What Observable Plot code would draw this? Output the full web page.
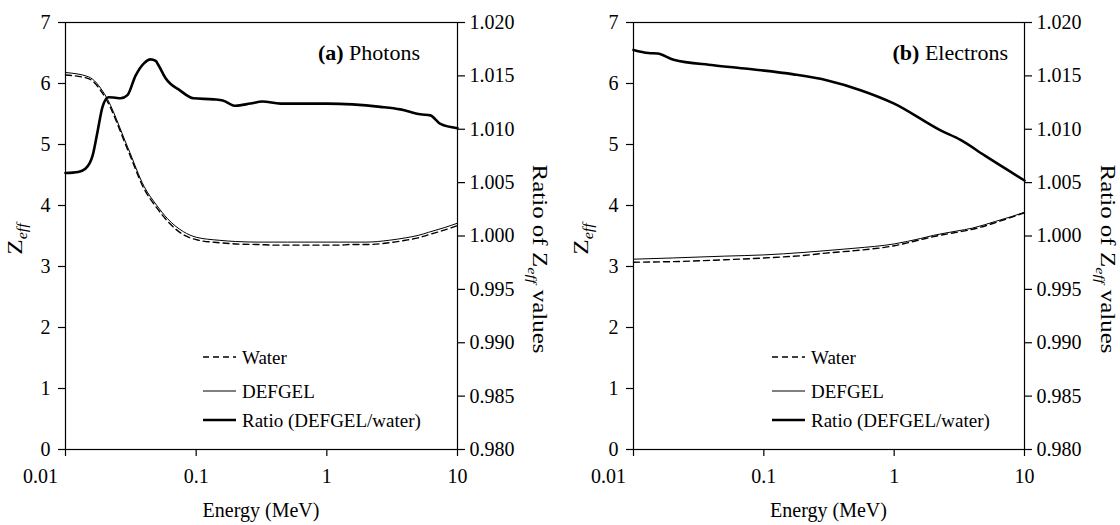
<!DOCTYPE html>
<html>
<head>
<meta charset="utf-8">
<script src="https://cdn.jsdelivr.net/npm/d3@7"></script>
<script src="https://cdn.jsdelivr.net/npm/@observablehq/plot@0.6"></script>
<style>
  html, body { margin: 0; padding: 0; background: #fff; }
  #wrap { display: flex; width: 1120px; height: 525px; }
</style>
</head>
<body>
<div id="wrap"></div>
<script>
// ---------- DATA ----------
// Photon energies (MeV) for Zeff curves
const photonEnergy = [0.01, 0.015, 0.02, 0.03, 0.04, 0.05, 0.06, 0.08, 0.1, 0.15, 0.2, 0.3, 0.4, 0.5, 0.6, 0.8, 1, 1.25, 1.5, 2, 3, 4, 5, 6, 8, 10];
const photonDefgel = [6.18, 6.11, 5.82, 4.95, 4.31, 4.00, 3.79, 3.57, 3.48, 3.43, 3.41, 3.40, 3.40, 3.40, 3.40, 3.40, 3.40, 3.40, 3.40, 3.40, 3.43, 3.47, 3.51, 3.56, 3.64, 3.71];
const photonWater  = [6.14, 6.08, 5.78, 4.91, 4.27, 3.96, 3.75, 3.52, 3.44, 3.39, 3.37, 3.36, 3.35, 3.35, 3.35, 3.35, 3.35, 3.35, 3.36, 3.36, 3.39, 3.43, 3.47, 3.52, 3.60, 3.67];
// Photon ratio DEFGEL/water
const photonRatioEnergy = [0.01, 0.0125, 0.0142, 0.0161, 0.0176, 0.0192, 0.0213, 0.024, 0.0264, 0.0298, 0.0343, 0.04, 0.0447, 0.049, 0.0515, 0.0582, 0.0759, 0.0953, 0.1357, 0.16, 0.2, 0.26, 0.3215, 0.4417, 1, 2.57, 3.66, 5.2, 6.2, 7.4, 10];
const photonRatio = [1.0059, 1.0060, 1.0063, 1.0075, 1.0098, 1.0121, 1.0130, 1.01295, 1.0129, 1.0132, 1.0150, 1.0162, 1.01655, 1.0164, 1.0160, 1.0148, 1.0136, 1.0129, 1.0128, 1.0127, 1.0122, 1.01241, 1.0126, 1.0124, 1.0124, 1.0121, 1.01186, 1.0114, 1.0113, 1.0105, 1.0101];

// Electron energies (MeV)
const electronEnergy = [0.01, 0.02, 0.05, 0.1, 0.2, 0.3, 0.5, 1, 1.6, 2, 3, 4, 6, 8, 10];
const electronDefgel = [3.12, 3.14, 3.17, 3.19, 3.23, 3.26, 3.30, 3.37, 3.46, 3.51, 3.58, 3.63, 3.74, 3.82, 3.89];
const electronWater  = [3.07, 3.08, 3.11, 3.14, 3.18, 3.22, 3.26, 3.34, 3.44, 3.49, 3.56, 3.61, 3.72, 3.81, 3.88];
const electronRatioEnergy = [0.01, 0.013, 0.0153, 0.0203, 0.0411, 0.075, 0.169, 0.308, 0.552, 1.0, 2.27, 3.23, 5.0, 10];
const electronRatio = [1.01743, 1.01714, 1.01709, 1.01651, 1.0160, 1.01566, 1.01514, 1.01457, 1.01366, 1.0124, 1.00989, 1.0090, 1.0075, 1.0052];

// Axis ticks
const xTicks = [0.01, 0.1, 1, 10];
const zTicks = [0, 1, 2, 3, 4, 5, 6, 7];
const ratioTicks = [0.980, 0.985, 0.990, 0.995, 1.000, 1.005, 1.010, 1.015, 1.020];
const legendLabels = ["Water", "DEFGEL", "Ratio (DEFGEL/water)"];

// ---------- HELPERS ----------
const FONT = "'Liberation Serif', 'Times New Roman', Times, 'DejaVu Serif', serif";
const ratioMin = 0.98, ratioMax = 1.02, zMax = 7;
const toZ = r => (r - ratioMin) / (ratioMax - ratioMin) * zMax;
const fromZ = z => ratioMin + z / zMax * (ratioMax - ratioMin);

function zip(xs, ys, key) { return xs.map((x, i) => ({E: x, [key]: ys[i]})); }

function panel(opts) {
  const {mLeft, mRight, defgel, water, ratio, energy, ratioEnergy, tag, name, titleX, legendX, zLabelX, rLabelX} = opts;
  const W = 560, H = 525, mTop = 22, mBottom = 76;
  const dData = zip(energy, defgel, "Z");
  const wData = zip(energy, water, "Z");
  const rData = zip(ratioEnergy, ratio, "R");
  const svg = Plot.plot({
    width: W, height: H,
    marginLeft: mLeft, marginRight: mRight, marginTop: mTop, marginBottom: mBottom,
    style: {fontFamily: FONT, fontSize: "20px", color: "#000", background: "#fff"},
    x: {type: "log", domain: [0.01, 10]},
    y: {domain: [0, 7]},
    marks: [
      Plot.frame({stroke: "#000", strokeWidth: 1.2}),
      Plot.axisX({ticks: xTicks, tickFormat: d => String(d), tickSize: 7, tickPadding: 12, label: null, strokeWidth: 1.2}),
      Plot.axisY({anchor: "left", ticks: zTicks, tickFormat: d => String(d), tickSize: 7, tickPadding: 8, label: null, strokeWidth: 1.2}),
      Plot.axisY({anchor: "right", ticks: ratioTicks.map(toZ), tickFormat: z => fromZ(z).toFixed(3), tickSize: 7, tickPadding: 5, label: null, strokeWidth: 1.2}),
      Plot.line(wData, {x: "E", y: "Z", stroke: "#000", strokeWidth: 1.4, strokeDasharray: "6,4", curve: "monotone-x"}),
      Plot.line(dData, {x: "E", y: "Z", stroke: "#000", strokeWidth: 1.0, curve: "monotone-x"}),
      Plot.line(rData, {x: "E", y: d => toZ(d.R), stroke: "#000", strokeWidth: 2.6, curve: "monotone-x"})
    ]
  });
  const s = d3.select(svg);
  // first x tick label sits left of the axis corner, as in the reference
  s.selectAll("text").filter(function() { return this.textContent === "0.01"; }).attr("dx", -25);
  // Panel tag
  const t = s.append("text").attr("x", titleX).attr("y", 60).attr("text-anchor", "end")
    .attr("font-size", 22).attr("fill", "#000");
  t.append("tspan").attr("font-weight", "bold").text("(" + tag + ")");
  t.append("tspan").text(" " + name);
  // X label
  s.append("text").attr("x", mLeft + (W - mLeft - mRight) / 2).attr("y", 517).attr("text-anchor", "middle")
    .attr("font-size", 20).attr("fill", "#000").text("Energy (MeV)");
  // Left label Z_eff
  const zl = s.append("text").attr("transform", `translate(${zLabelX},239) scale(1,1.15) rotate(-90)`).attr("text-anchor", "middle")
    .attr("font-size", 22).attr("fill", "#000");
  zl.append("tspan").text("Z");
  zl.append("tspan").attr("font-style", "italic").attr("font-size", 14).attr("dy", 5).text("eff");
  // Right label
  const rl = s.append("text").attr("transform", `translate(${rLabelX},259) scale(1,1.25) rotate(90)`).attr("text-anchor", "middle")
    .attr("font-size", 20).attr("fill", "#000");
  rl.append("tspan").text("Ratio of Z");
  rl.append("tspan").attr("font-style", "italic").attr("font-size", 13).attr("dy", 5).text("eff");
  rl.append("tspan").attr("dy", -5).text(" values");
  // Legend
  const ys = [357, 391, 420];
  const styles = [{w: 1.6, dash: "6,4"}, {w: 1.0, dash: null}, {w: 2.6, dash: null}];
  legendLabels.forEach((lab, i) => {
    const ln = s.append("line").attr("x1", legendX).attr("x2", legendX + 33).attr("y1", ys[i]).attr("y2", ys[i])
      .attr("stroke", "#000").attr("stroke-width", styles[i].w);
    if (styles[i].dash) ln.attr("stroke-dasharray", styles[i].dash);
    s.append("text").attr("x", legendX + 39).attr("y", ys[i] + 7).attr("text-anchor", "start")
      .attr("font-size", 19).attr("fill", "#000").text(lab);
  });
  s.selectAll("text").style("font-family", FONT);
  return svg;
}

const wrap = document.getElementById("wrap");
wrap.appendChild(panel({
  mLeft: 65, mRight: 103, energy: photonEnergy, defgel: photonDefgel, water: photonWater,
  ratioEnergy: photonRatioEnergy, ratio: photonRatio,
  tag: "a", name: "Photons", titleX: 420, legendX: 203, zLabelX: 22, rLabelX: 533
}));
wrap.appendChild(panel({
  mLeft: 73, mRight: 96, energy: electronEnergy, defgel: electronDefgel, water: electronWater,
  ratioEnergy: electronRatioEnergy, ratio: electronRatio,
  tag: "b", name: "Electrons", titleX: 448, legendX: 212, zLabelX: 28, rLabelX: 541
}));
</script>
</body>
</html>
